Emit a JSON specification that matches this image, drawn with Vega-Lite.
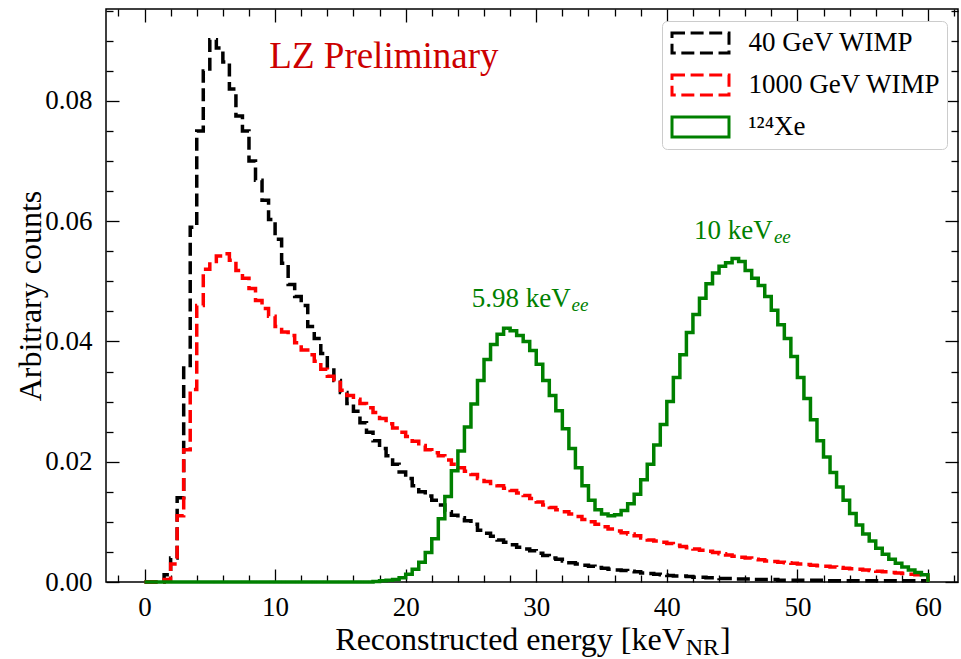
{
"$schema": "https://vega.github.io/schema/vega-lite/v6.json",
"width": 852,
"height": 573,
"autosize": {"type": "none"},
"padding": {"left": 106, "top": 9, "right": 3, "bottom": 77},
"background": "white",
"config": {
  "view": {"stroke": "black", "strokeWidth": 1.5},
  "font": "Liberation Serif",
  "axis": {"grid": false, "domain": false, "tickColor": "black", "tickWidth": 1.3, "labelColor": "black", "labelFont": "Liberation Serif", "labelFontSize": 27, "titleFont": "Liberation Serif", "titleFontSize": 32, "titleFontWeight": "normal", "titleColor": "black", "labelFlush": false}
},
"resolve": {"axis": {"x": "independent", "y": "independent"}},
"layer": [
{
  "data": {"values": [
{"e":0,"wimp40":0,"wimp1000":0,"xe124":0},
{"e":0.5,"wimp40":0,"wimp1000":0,"xe124":0},
{"e":1,"wimp40":0,"wimp1000":0,"xe124":0},
{"e":1.5,"wimp40":0.0012,"wimp1000":0.0004,"xe124":0},
{"e":2,"wimp40":0.004,"wimp1000":0.003,"xe124":0},
{"e":2.5,"wimp40":0.014,"wimp1000":0.011,"xe124":0},
{"e":3,"wimp40":0.036,"wimp1000":0.022,"xe124":0},
{"e":3.5,"wimp40":0.059,"wimp1000":0.032,"xe124":0},
{"e":4,"wimp40":0.075,"wimp1000":0.046,"xe124":0},
{"e":4.5,"wimp40":0.085,"wimp1000":0.052,"xe124":0},
{"e":5,"wimp40":0.0902,"wimp1000":0.0533,"xe124":0},
{"e":5.5,"wimp40":0.0888,"wimp1000":0.0542,"xe124":0},
{"e":6,"wimp40":0.0865,"wimp1000":0.0546,"xe124":0},
{"e":6.5,"wimp40":0.082,"wimp1000":0.0535,"xe124":0},
{"e":7,"wimp40":0.0775,"wimp1000":0.0518,"xe124":0},
{"e":7.5,"wimp40":0.075,"wimp1000":0.0505,"xe124":0},
{"e":8,"wimp40":0.07,"wimp1000":0.0488,"xe124":0},
{"e":8.5,"wimp40":0.0668,"wimp1000":0.0468,"xe124":0},
{"e":9,"wimp40":0.0635,"wimp1000":0.0455,"xe124":0},
{"e":9.5,"wimp40":0.0603,"wimp1000":0.0442,"xe124":0},
{"e":10,"wimp40":0.057,"wimp1000":0.0425,"xe124":0},
{"e":10.5,"wimp40":0.053,"wimp1000":0.0416,"xe124":0},
{"e":11,"wimp40":0.0495,"wimp1000":0.041,"xe124":0},
{"e":11.5,"wimp40":0.0475,"wimp1000":0.0398,"xe124":0},
{"e":12,"wimp40":0.046,"wimp1000":0.0386,"xe124":0},
{"e":12.5,"wimp40":0.0425,"wimp1000":0.0378,"xe124":0},
{"e":13,"wimp40":0.0405,"wimp1000":0.0367,"xe124":0},
{"e":13.5,"wimp40":0.038,"wimp1000":0.0354,"xe124":0},
{"e":14,"wimp40":0.0357,"wimp1000":0.0342,"xe124":0},
{"e":14.5,"wimp40":0.0335,"wimp1000":0.0332,"xe124":0},
{"e":15,"wimp40":0.0315,"wimp1000":0.0319,"xe124":0},
{"e":15.5,"wimp40":0.0297,"wimp1000":0.031,"xe124":0},
{"e":16,"wimp40":0.0284,"wimp1000":0.0304,"xe124":0},
{"e":16.5,"wimp40":0.0265,"wimp1000":0.0297,"xe124":0},
{"e":17,"wimp40":0.0249,"wimp1000":0.029,"xe124":0},
{"e":17.5,"wimp40":0.0235,"wimp1000":0.0282,"xe124":0.0001},
{"e":18,"wimp40":0.0222,"wimp1000":0.0272,"xe124":0.0002},
{"e":18.5,"wimp40":0.021,"wimp1000":0.0263,"xe124":0.0003},
{"e":19,"wimp40":0.0196,"wimp1000":0.0256,"xe124":0.0004},
{"e":19.5,"wimp40":0.0183,"wimp1000":0.0249,"xe124":0.0007},
{"e":20,"wimp40":0.0172,"wimp1000":0.0242,"xe124":0.0013},
{"e":20.5,"wimp40":0.016,"wimp1000":0.0234,"xe124":0.0021},
{"e":21,"wimp40":0.015,"wimp1000":0.0227,"xe124":0.0033},
{"e":21.5,"wimp40":0.0143,"wimp1000":0.022,"xe124":0.0049},
{"e":22,"wimp40":0.0136,"wimp1000":0.0215,"xe124":0.0072},
{"e":22.5,"wimp40":0.0128,"wimp1000":0.021,"xe124":0.0105},
{"e":23,"wimp40":0.0117,"wimp1000":0.0203,"xe124":0.0142},
{"e":23.5,"wimp40":0.0111,"wimp1000":0.0196,"xe124":0.0185},
{"e":24,"wimp40":0.0107,"wimp1000":0.019,"xe124":0.0218},
{"e":24.5,"wimp40":0.0102,"wimp1000":0.0184,"xe124":0.0258},
{"e":25,"wimp40":0.0096,"wimp1000":0.0179,"xe124":0.0296},
{"e":25.5,"wimp40":0.0086,"wimp1000":0.0172,"xe124":0.0335},
{"e":26,"wimp40":0.0081,"wimp1000":0.0167,"xe124":0.037},
{"e":26.5,"wimp40":0.0076,"wimp1000":0.0164,"xe124":0.0395},
{"e":27,"wimp40":0.007,"wimp1000":0.016,"xe124":0.0412},
{"e":27.5,"wimp40":0.0066,"wimp1000":0.0156,"xe124":0.0422},
{"e":28,"wimp40":0.0062,"wimp1000":0.0152,"xe124":0.0418},
{"e":28.5,"wimp40":0.0058,"wimp1000":0.0148,"xe124":0.041},
{"e":29,"wimp40":0.0055,"wimp1000":0.0144,"xe124":0.04},
{"e":29.5,"wimp40":0.0052,"wimp1000":0.0139,"xe124":0.0385},
{"e":30,"wimp40":0.0048,"wimp1000":0.0133,"xe124":0.0362},
{"e":30.5,"wimp40":0.0044,"wimp1000":0.0128,"xe124":0.0335},
{"e":31,"wimp40":0.004,"wimp1000":0.0124,"xe124":0.031},
{"e":31.5,"wimp40":0.0038,"wimp1000":0.012,"xe124":0.0285},
{"e":32,"wimp40":0.0035,"wimp1000":0.0117,"xe124":0.0255},
{"e":32.5,"wimp40":0.0032,"wimp1000":0.0113,"xe124":0.0222},
{"e":33,"wimp40":0.003,"wimp1000":0.0109,"xe124":0.019},
{"e":33.5,"wimp40":0.0028,"wimp1000":0.0104,"xe124":0.016},
{"e":34,"wimp40":0.0026,"wimp1000":0.01,"xe124":0.0136},
{"e":34.5,"wimp40":0.0024,"wimp1000":0.0096,"xe124":0.012},
{"e":35,"wimp40":0.0023,"wimp1000":0.0092,"xe124":0.0113},
{"e":35.5,"wimp40":0.0021,"wimp1000":0.0088,"xe124":0.011},
{"e":36,"wimp40":0.002,"wimp1000":0.0085,"xe124":0.0112},
{"e":36.5,"wimp40":0.0019,"wimp1000":0.0082,"xe124":0.0119},
{"e":37,"wimp40":0.0018,"wimp1000":0.008,"xe124":0.013},
{"e":37.5,"wimp40":0.0017,"wimp1000":0.0077,"xe124":0.0146},
{"e":38,"wimp40":0.0015,"wimp1000":0.0073,"xe124":0.017},
{"e":38.5,"wimp40":0.0014,"wimp1000":0.007,"xe124":0.0196},
{"e":39,"wimp40":0.0013,"wimp1000":0.0068,"xe124":0.0228},
{"e":39.5,"wimp40":0.0012,"wimp1000":0.0066,"xe124":0.0262},
{"e":40,"wimp40":0.0011,"wimp1000":0.0064,"xe124":0.03},
{"e":40.5,"wimp40":0.001,"wimp1000":0.0061,"xe124":0.034},
{"e":41,"wimp40":0.001,"wimp1000":0.0059,"xe124":0.0378},
{"e":41.5,"wimp40":0.0009,"wimp1000":0.0057,"xe124":0.0415},
{"e":42,"wimp40":0.0008,"wimp1000":0.0055,"xe124":0.0445},
{"e":42.5,"wimp40":0.0008,"wimp1000":0.0053,"xe124":0.0472},
{"e":43,"wimp40":0.0007,"wimp1000":0.0051,"xe124":0.0496},
{"e":43.5,"wimp40":0.0007,"wimp1000":0.0049,"xe124":0.0514},
{"e":44,"wimp40":0.0006,"wimp1000":0.0047,"xe124":0.0525},
{"e":44.5,"wimp40":0.0006,"wimp1000":0.0045,"xe124":0.0531},
{"e":45,"wimp40":0.0005,"wimp1000":0.0043,"xe124":0.0538},
{"e":45.5,"wimp40":0.0005,"wimp1000":0.0041,"xe124":0.0533},
{"e":46,"wimp40":0.0005,"wimp1000":0.004,"xe124":0.0518},
{"e":46.5,"wimp40":0.0004,"wimp1000":0.0038,"xe124":0.0505},
{"e":47,"wimp40":0.0004,"wimp1000":0.0037,"xe124":0.0493},
{"e":47.5,"wimp40":0.0004,"wimp1000":0.0035,"xe124":0.0475},
{"e":48,"wimp40":0.0004,"wimp1000":0.0034,"xe124":0.0452},
{"e":48.5,"wimp40":0.0003,"wimp1000":0.0033,"xe124":0.0428},
{"e":49,"wimp40":0.0003,"wimp1000":0.0032,"xe124":0.0405},
{"e":49.5,"wimp40":0.0003,"wimp1000":0.0031,"xe124":0.0375},
{"e":50,"wimp40":0.0003,"wimp1000":0.003,"xe124":0.034},
{"e":50.5,"wimp40":0.0003,"wimp1000":0.0029,"xe124":0.0305},
{"e":51,"wimp40":0.0003,"wimp1000":0.0028,"xe124":0.027},
{"e":51.5,"wimp40":0.0003,"wimp1000":0.0027,"xe124":0.0235},
{"e":52,"wimp40":0.0002,"wimp1000":0.0026,"xe124":0.0208},
{"e":52.5,"wimp40":0.0002,"wimp1000":0.0025,"xe124":0.0182},
{"e":53,"wimp40":0.0002,"wimp1000":0.0024,"xe124":0.0158},
{"e":53.5,"wimp40":0.0002,"wimp1000":0.0023,"xe124":0.0136},
{"e":54,"wimp40":0.0002,"wimp1000":0.0022,"xe124":0.0114},
{"e":54.5,"wimp40":0.0002,"wimp1000":0.0021,"xe124":0.0095},
{"e":55,"wimp40":0.0002,"wimp1000":0.002,"xe124":0.008},
{"e":55.5,"wimp40":0.0002,"wimp1000":0.0019,"xe124":0.0068},
{"e":56,"wimp40":0.0002,"wimp1000":0.0018,"xe124":0.0056},
{"e":56.5,"wimp40":0.0002,"wimp1000":0.0017,"xe124":0.0046},
{"e":57,"wimp40":0.0002,"wimp1000":0.0016,"xe124":0.0038},
{"e":57.5,"wimp40":0.0002,"wimp1000":0.0015,"xe124":0.0031},
{"e":58,"wimp40":0.0002,"wimp1000":0.0014,"xe124":0.0025},
{"e":58.5,"wimp40":0.0002,"wimp1000":0.0013,"xe124":0.002},
{"e":59,"wimp40":0.0002,"wimp1000":0.0012,"xe124":0.0016},
{"e":59.5,"wimp40":0.0002,"wimp1000":0.001,"xe124":0.0012},
{"e":60,"wimp40":0,"wimp1000":0,"xe124":0}
  ]},
  "transform": [{"fold": ["wimp40", "wimp1000", "xe124"], "as": ["series", "v"]}],
  "mark": {"type": "line", "interpolate": "step-after", "strokeWidth": 3.5},
  "encoding": {
    "x": {"field": "e", "type": "quantitative",
      "scale": {"domain": [-2.95, 62.3], "nice": false, "zero": false},
      "axis": {"orient": "bottom", "values": [0, 10, 20, 30, 40, 50, 60], "tickSize": -13, "labelPadding": 25, "title": null}},
    "y": {"field": "v", "type": "quantitative",
      "scale": {"domain": [0, 0.0953], "nice": false, "zero": false},
      "axis": {"orient": "left", "values": [0, 0.02, 0.04, 0.06, 0.08], "format": ".2f", "tickSize": -13, "labelPadding": 27,
        "title": "Arbitrary counts", "titleX": -76, "titleY": 286.5, "titleAngle": 270, "titleBaseline": "middle", "titleAlign": "center"}},
    "color": {"field": "series", "type": "nominal",
      "scale": {"domain": ["wimp40", "wimp1000", "xe124"], "range": ["#000000", "#ff0000", "#008000"]},
      "legend": {"orient": "none", "legendX": 556, "legendY": 12, "title": null,
        "labelExpr": "(datum.label == 'wimp40' ? '40 GeV WIMP' : datum.label == 'wimp1000' ? '1000 GeV WIMP' : '¹²⁴Xe') + ' '",
        "symbolType": "M-2,-0.7H2V0.7H-2Z", "symbolSize": 812, "symbolStrokeWidth": 3, "symbolFillColor": "transparent",
        "symbolOffset": 16.5,
        "labelFont": "Liberation Serif", "labelFontSize": 27, "labelColor": "black", "labelOffset": 32, "labelLimit": 400,
        "rowPadding": 10, "padding": 6, "fillColor": "white", "strokeColor": "#cccccc", "cornerRadius": 5,
        "encode": {"symbols": {"update": {"fill": {"value": "transparent"}}}}}},
    "strokeDash": {"field": "series", "type": "nominal",
      "scale": {"domain": ["wimp40", "wimp1000", "xe124"], "range": [[13, 5.6], [13, 5.6], [1, 0]]}}
  }
},
{
  "data": {"values": [{}]},
  "mark": {"type": "text", "align": "left", "baseline": "alphabetic", "font": "Liberation Serif", "fontSize": 37, "color": "#cc0000"},
  "encoding": {
    "x": {"datum": 9.56, "axis": {"orient": "bottom", "values": [-2, 2, 4, 6, 8, 12, 14, 16, 18, 22, 24, 26, 28, 32, 34, 36, 38, 42, 44, 46, 48, 52, 54, 56, 58, 62], "tickSize": -7, "labels": false, "title": null}},
    "y": {"datum": 0.0855, "axis": {"orient": "left", "values": [0.005, 0.01, 0.015, 0.025, 0.03, 0.035, 0.045, 0.05, 0.055, 0.065, 0.07, 0.075, 0.085, 0.09, 0.095], "tickSize": -7, "labels": false, "title": null}},
    "text": {"value": "LZ Preliminary"}
  }
},
{
  "data": {"values": [{}]},
  "mark": {"type": "text", "align": "left", "baseline": "alphabetic", "font": "Liberation Serif", "fontSize": 27, "color": "#008000"},
  "encoding": {
    "x": {"datum": 25.07, "axis": {"orient": "top", "values": [0, 10, 20, 30, 40, 50, 60], "tickSize": -13, "labels": false, "title": null}},
    "y": {"datum": 0.0458, "axis": {"orient": "right", "values": [0, 0.02, 0.04, 0.06, 0.08], "tickSize": -13, "labels": false, "title": null}},
    "text": {"value": "5.98 keV"}
  }
},
{
  "data": {"values": [{}]},
  "mark": {"type": "text", "align": "left", "baseline": "alphabetic", "font": "Liberation Serif", "fontSize": 19, "fontStyle": "italic", "color": "#008000"},
  "encoding": {
    "x": {"datum": 32.7, "axis": {"orient": "top", "values": [-2, 2, 4, 6, 8, 12, 14, 16, 18, 22, 24, 26, 28, 32, 34, 36, 38, 42, 44, 46, 48, 52, 54, 56, 58, 62], "tickSize": -7, "labels": false, "title": null}},
    "y": {"datum": 0.0451, "axis": {"orient": "right", "values": [0.005, 0.01, 0.015, 0.025, 0.03, 0.035, 0.045, 0.05, 0.055, 0.065, 0.07, 0.075, 0.085, 0.09, 0.095], "tickSize": -7, "labels": false, "title": null}},
    "text": {"value": "ee"}
  }
},
{
  "data": {"values": [{}]},
  "mark": {"type": "text", "align": "left", "baseline": "alphabetic", "font": "Liberation Serif", "fontSize": 27, "color": "#008000"},
  "encoding": {
    "x": {"datum": 42.08, "axis": null},
    "y": {"datum": 0.057, "axis": null},
    "text": {"value": "10 keV"}
  }
},
{
  "data": {"values": [{}]},
  "mark": {"type": "text", "align": "left", "baseline": "alphabetic", "font": "Liberation Serif", "fontSize": 19, "fontStyle": "italic", "color": "#008000"},
  "encoding": {
    "x": {"datum": 48.2, "axis": null},
    "y": {"datum": 0.0563, "axis": null},
    "text": {"value": "ee"}
  }
},
{
  "data": {"values": [{}]},
  "mark": {"type": "text", "align": "left", "baseline": "alphabetic", "font": "Liberation Serif", "fontSize": 32, "color": "black"},
  "encoding": {
    "x": {"datum": 14.61, "axis": null},
    "y": {"datum": -0.0113, "axis": null},
    "text": {"value": "Reconstructed energy [keV"}
  }
},
{
  "data": {"values": [{}]},
  "mark": {"type": "text", "align": "left", "baseline": "alphabetic", "font": "Liberation Serif", "fontSize": 24, "color": "black"},
  "encoding": {
    "x": {"datum": 41.45, "axis": null},
    "y": {"datum": -0.0121, "axis": null},
    "text": {"value": "NR"}
  }
},
{
  "data": {"values": [{}]},
  "mark": {"type": "text", "align": "left", "baseline": "alphabetic", "font": "Liberation Serif", "fontSize": 32, "color": "black"},
  "encoding": {
    "x": {"datum": 44.07, "axis": null},
    "y": {"datum": -0.0113, "axis": null},
    "text": {"value": "]"}
  }
}
]
}
